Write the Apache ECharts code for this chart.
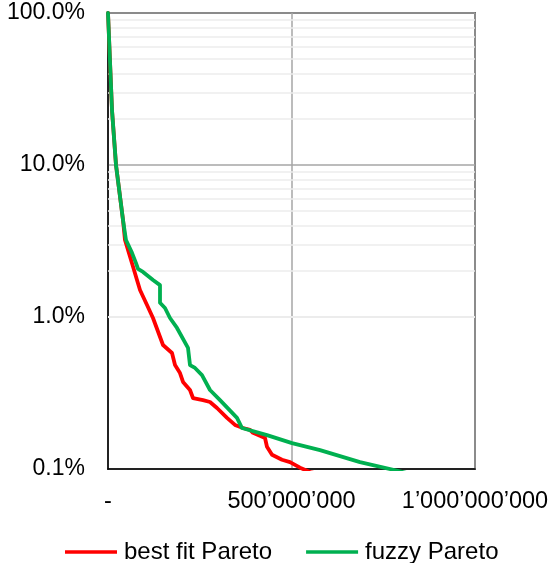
<!DOCTYPE html>
<html>
<head>
<meta charset="utf-8">
<script src="https://cdn.jsdelivr.net/npm/echarts@6/dist/echarts.min.js"></script>
<style>
  html, body { margin: 0; padding: 0; background: #fff; }
  #chart { width: 553px; height: 563px; }
</style>
</head>
<body>
<div id="chart"></div>
<script>
// Exceedance probability vs. loss amount (x in millions, y as a fraction)
const seriesNames = ['best fit Pareto', 'fuzzy Pareto'];

const bestFitX = [0, 10.9, 21.8, 40.9, 46.3, 65.4, 79.0, 87.2, 106.3, 122.6, 149.9, 174.4, 182.6, 196.2, 204.4, 223.4, 231.6, 258.9, 277.9, 297.0, 324.3, 346.0, 367.8, 386.9, 395.1, 427.8, 433.2, 446.9, 474.1, 495.9, 523.2, 550.4, 572.2];
const bestFitY = [1.0, 0.230, 0.100, 0.0435, 0.0321, 0.0226, 0.0175, 0.01506, 0.0120, 0.00985, 0.00654, 0.00580, 0.00483, 0.00428, 0.00374, 0.00331, 0.00293, 0.00284, 0.00276, 0.00252, 0.00217, 0.00195, 0.00186, 0.00181, 0.00173, 0.00160, 0.00140, 0.00124, 0.00115, 0.00111, 0.00102, 0.000955, 0.00093];

const fuzzyX = [0, 10.9, 21.8, 40.9, 49.0, 65.4, 76.3, 81.7, 95.4, 122.6, 141.7, 141.7, 155.3, 168.9, 188.0, 218.0, 223.4, 237.1, 256.1, 277.9, 305.2, 351.5, 365.1, 433.2, 501.4, 577.7, 686.6, 803.8, 822.9];
const fuzzyY = [1.0, 0.230, 0.100, 0.0435, 0.0321, 0.0264, 0.0226, 0.0207, 0.0198, 0.0175, 0.0162, 0.0124, 0.01146, 0.00985, 0.00847, 0.00626, 0.00483, 0.00462, 0.00415, 0.00331, 0.00284, 0.00217, 0.00186, 0.00167, 0.00148, 0.00133, 0.00111, 0.000955, 0.00093];

// Light minor gridlines at 2..9 of each decade
const minorGridY = [];
[0.001, 0.01, 0.1].forEach(function (d) {
  for (let k = 2; k <= 9; k++) minorGridY.push(+(d * k).toPrecision(3));
});

const xMin = 0, xMax = 1e9, xStep = 5e8;
const yMin = 0.001, yMax = 1;

function zip(xs, ys) {
  return xs.map(function (x, i) { return [x * 1e6, ys[i]]; });
}
function fmtThousands(v) {
  if (v === 0) return '-';
  return String(Math.round(v)).replace(/\B(?=(\d{3})+(?!\d))/g, '\u2019');
}

const font = "'Liberation Sans', Arial, sans-serif";
const chart = echarts.init(document.getElementById('chart'), null, { renderer: 'canvas' });

chart.setOption({
  animation: false,
  backgroundColor: '#fff',
  textStyle: { fontFamily: font },
  grid: {
    left: 108, right: 78, top: 13, bottom: 94,
    show: true, borderColor: '#000', borderWidth: 1.5, backgroundColor: 'transparent'
  },
  legend: {
    left: 60, top: 535,
    icon: 'rect', itemWidth: 52, itemHeight: 3.5, itemGap: 34,
    textStyle: { fontSize: 24, color: '#000', fontFamily: font, padding: [0, 0, 0, 2] },
    data: seriesNames
  },
  xAxis: {
    type: 'value', min: xMin, max: xMax, interval: xStep,
    axisLine: { show: true, lineStyle: { color: '#000', width: 1.5 } },
    axisTick: { show: false },
    axisLabel: { fontSize: 23.5, color: '#000', margin: 21, formatter: fmtThousands, fontFamily: font },
    splitLine: { show: true, lineStyle: { color: '#a6a6a6', width: 1.5 } }
  },
  yAxis: {
    type: 'log', logBase: 10, min: yMin, max: yMax,
    axisLine: { show: true, lineStyle: { color: '#000', width: 1.5 } },
    axisTick: { show: false },
    axisLabel: {
      fontSize: 23, color: '#000', margin: 23, fontFamily: font,
      formatter: function (v) { return (v * 100).toFixed(1) + '%'; }
    },
    splitLine: { show: true, lineStyle: { color: '#a6a6a6', width: 1.5 } }
  },
  series: [
    {
      name: 'minor-grid', type: 'line', data: [], z: 1, silent: true,
      markLine: {
        z: 1, silent: true, symbol: ['none', 'none'], label: { show: false },
        lineStyle: { color: '#ededed', width: 1.5, type: 'solid' },
        emphasis: { disabled: true },
        data: minorGridY.map(function (v) { return { yAxis: v }; })
      }
    },
    {
      name: seriesNames[0], type: 'line', z: 3, showSymbol: false, symbol: 'none',
      color: '#ff0000', lineStyle: { color: '#ff0000', width: 3.8, join: 'round', cap: 'round' },
      data: zip(bestFitX, bestFitY)
    },
    {
      name: seriesNames[1], type: 'line', z: 4, showSymbol: false, symbol: 'none',
      color: '#00b050', lineStyle: { color: '#00b050', width: 3.8, join: 'round', cap: 'round' },
      data: zip(fuzzyX, fuzzyY)
    }
  ]
});
</script>
</body>
</html>
